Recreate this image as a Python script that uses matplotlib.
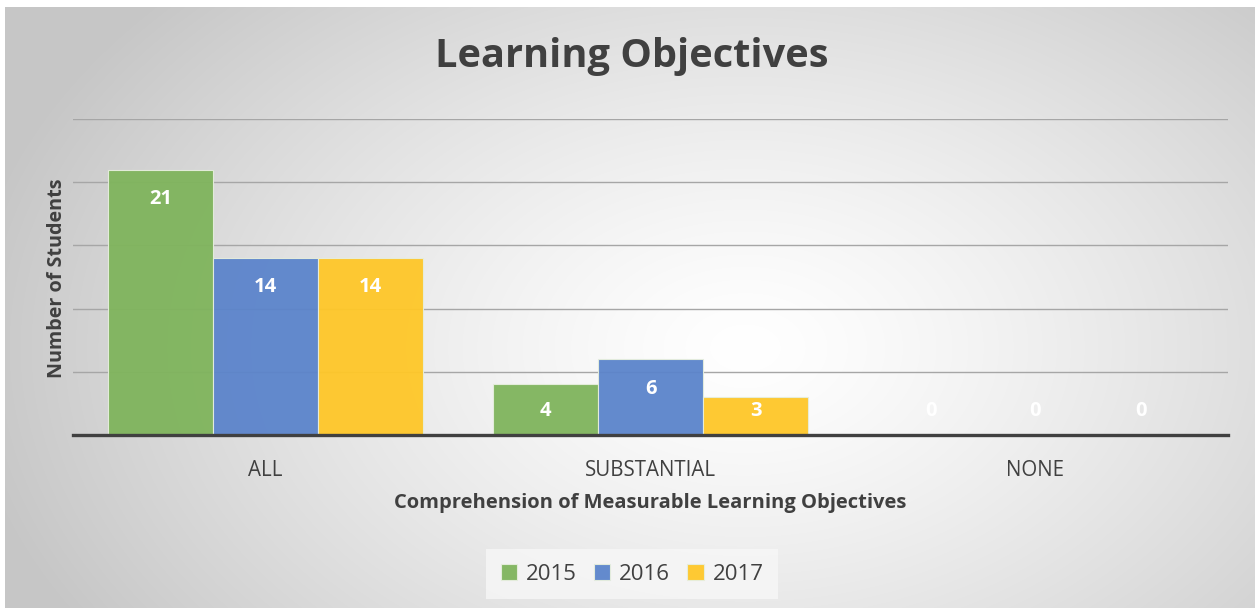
import numpy as np
import matplotlib
matplotlib.use("Agg")
import matplotlib.pyplot as plt

categories = ["ALL", "SUBSTANTIAL", "NONE"]
series_names = ["2015", "2016", "2017"]
values_2015 = [21, 4, 0]
values_2016 = [14, 6, 0]
values_2017 = [14, 3, 0]
series_values = [values_2015, values_2016, values_2017]
colors = ["#7FB45C", "#5B84CB", "#FFC728"]

W, H = 1255, 608
fig = plt.figure(figsize=(W / 100, H / 100), dpi=100)
fig.patch.set_facecolor("white")

# background radial gradient
bg = fig.add_axes([5 / W, 0, 1 - 5 / W, 1 - 7 / H])
bg.set_axis_off()
yy, xx = np.mgrid[0:600, 0:1250]
cx, cy = 740, 340
d = np.sqrt(((xx - cx) / 780.0) ** 2 + ((yy - cy) / 520.0) ** 2)
d = np.clip(d, 0, 1)
val = 1.0 - 0.22 * d ** 1.3
img = np.dstack([val, val, val])
bg.imshow(img, aspect="auto", extent=[0, 1, 0, 1], origin="upper")
bg.set_zorder(0)

ax = fig.add_axes([73 / W, (H - 435) / H, 1155 / W, 316 / H])
ax.set_zorder(1)
ax.patch.set_alpha(0)

x = np.arange(len(categories))
bw = 105 / 385
for i, (name, vals, c) in enumerate(zip(series_names, series_values, colors)):
    pos = x + (i - 1) * bw
    ax.bar(pos, vals, width=bw, color=c, edgecolor="#E6EEDD", linewidth=0.8,
           label=name, zorder=3, alpha=0.95)
    for px, v in zip(pos, vals):
        ty = max(v - 2.13, 2.13)
        ax.text(px, ty - 0.2, str(v), ha="center", va="center", color="white",
                fontsize=14.5, fontweight="bold", family="Open Sans", zorder=4)

ax.set_xlim(-0.5, 2.5)
ax.set_ylim(0, 25)
ax.set_yticks([5, 10, 15, 20, 25])
ax.yaxis.grid(True, color="#A6A6A6", linewidth=1)
ax.set_axisbelow(True)
ax.tick_params(axis="y", length=0, labelleft=False)
ax.tick_params(axis="x", length=0, pad=18)
ax.set_xticks(x)
ax.set_xticklabels(categories, fontsize=14.8, color="#404040", family="Open Sans")
for s in ["top", "right", "left"]:
    ax.spines[s].set_visible(False)
ax.spines["bottom"].set_color("#404040")
ax.spines["bottom"].set_linewidth(2.4)
ax.spines["bottom"].set_zorder(5)

fig.text(650 / W, 1 - 503 / H, "Comprehension of Measurable Learning Objectives",
         ha="center", va="center", fontsize=14.5, fontweight="bold",
         color="#404040", family="Open Sans")
fig.text(57 / W, 1 - 278 / H, "Number of Students", rotation=90, ha="center",
         va="center", fontsize=14.2, fontweight="bold", color="#404040", family="Open Sans")
fig.text(632 / W, 1 - 57 / H, "Learning Objectives", ha="center", va="center",
         fontsize=28.6, fontweight="bold", color="#404040", family="Open Sans")

leg = fig.legend(loc="center", bbox_to_anchor=(632 / W, 1 - 574 / H), ncol=3,
                 frameon=True, handlelength=0.75, handleheight=0.75,
                 columnspacing=0.75, handletextpad=0.4, borderpad=0.65,
                 borderaxespad=0,
                 prop={"family": "Open Sans", "size": 16})
leg.get_frame().set_facecolor("#F7F7F7")
leg.get_frame().set_edgecolor("none")
leg.get_frame().set_boxstyle("square", pad=0)
for t in leg.get_texts():
    t.set_color("#404040")

fig.savefig("out.png", dpi=100)
